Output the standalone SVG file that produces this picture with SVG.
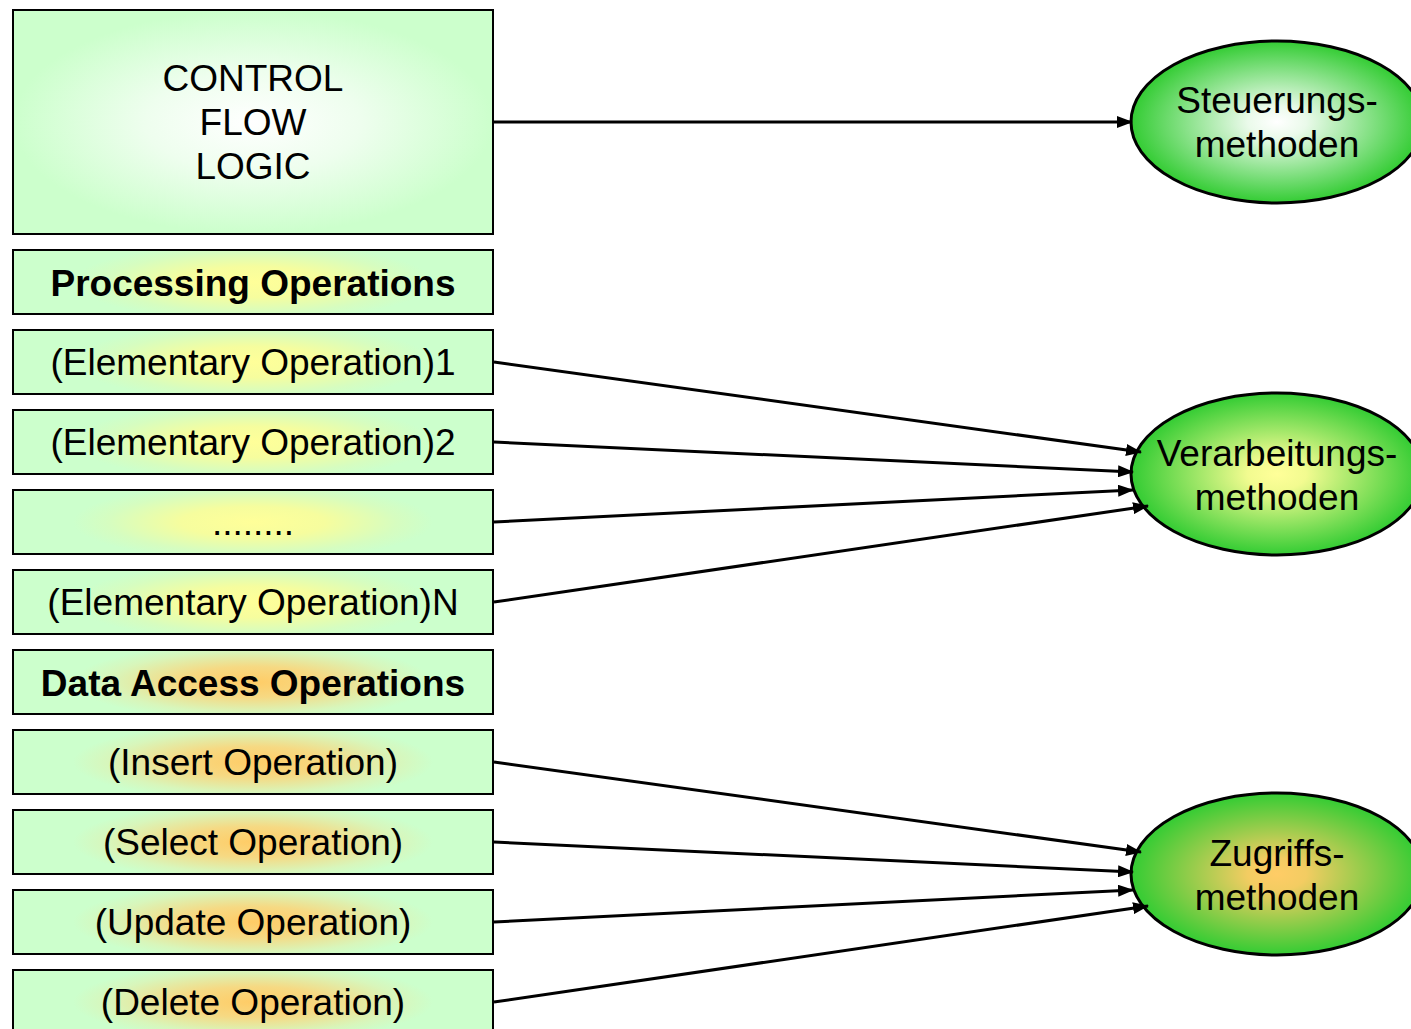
<svg xmlns="http://www.w3.org/2000/svg" width="1411" height="1029" viewBox="0 0 1411 1029">
<defs>
<radialGradient id="gW" cx="50%" cy="50%" r="50%">
<stop offset="0" stop-color="#ffffff"/><stop offset="0.45" stop-color="#eefeee"/><stop offset="1" stop-color="#ccffcc"/>
</radialGradient>
<radialGradient id="gY" cx="50%" cy="50%" r="50%" gradientTransform="translate(0.5 0.5) scale(1 1.6) translate(-0.5 -0.5)">
<stop offset="0" stop-color="#ffff99"/><stop offset="0.3" stop-color="#f6fd9e"/><stop offset="0.6" stop-color="#d6fdc0"/><stop offset="0.75" stop-color="#ccffcc"/><stop offset="1" stop-color="#ccffcc"/>
</radialGradient>
<radialGradient id="gO" cx="50%" cy="50%" r="50%" gradientTransform="translate(0.5 0.5) scale(1 1.6) translate(-0.5 -0.5)">
<stop offset="0" stop-color="#ffcc66"/><stop offset="0.3" stop-color="#f6d983"/><stop offset="0.6" stop-color="#d8f6bb"/><stop offset="0.75" stop-color="#ccffcc"/><stop offset="1" stop-color="#ccffcc"/>
</radialGradient>
<radialGradient id="eW" cx="50%" cy="50%" r="50%">
<stop offset="0" stop-color="#ffffff"/><stop offset="0.2" stop-color="#eafaea"/><stop offset="1" stop-color="#33cc33"/>
</radialGradient>
<radialGradient id="eY" cx="50%" cy="50%" r="50%">
<stop offset="0" stop-color="#ffff99"/><stop offset="0.2" stop-color="#f2fb90"/><stop offset="1" stop-color="#33cc33"/>
</radialGradient>
<radialGradient id="eO" cx="50%" cy="50%" r="50%">
<stop offset="0" stop-color="#ffcc66"/><stop offset="0.2" stop-color="#f3cc62"/><stop offset="1" stop-color="#33cc33"/>
</radialGradient>
<marker id="arr" markerWidth="16" markerHeight="12" refX="15" refY="6" orient="auto" markerUnits="userSpaceOnUse">
<path d="M0,0 L16,6 L0,12 Z" fill="#000"/>
</marker>
</defs>
<style>
.box{stroke:#000;stroke-width:2}
.ell{stroke:#000;stroke-width:3}
text{font-family:"Liberation Sans",Arial,sans-serif;font-size:37px;text-anchor:middle;fill:#000}
.b{font-weight:bold;font-size:37px}
.con{stroke:#000;stroke-width:3;fill:none;marker-end:url(#arr)}
</style>
<rect width="1411" height="1029" fill="#fff"/>
<g id="control"><rect class="box" x="13" y="10" width="480" height="224" fill="url(#gW)"/>
<text x="253" y="91">CONTROL</text><text x="253" y="135">FLOW</text><text x="253" y="179">LOGIC</text></g>
<g id="processing"><rect class="box" x="13" y="250" width="480" height="64" fill="url(#gY)"/><text class="b" x="253" y="296">Processing Operations</text></g>
<g id="elem1"><rect class="box" x="13" y="330" width="480" height="64" fill="url(#gY)"/><text x="253" y="375">(Elementary Operation)1</text></g>
<g id="elem2"><rect class="box" x="13" y="410" width="480" height="64" fill="url(#gY)"/><text x="253" y="455">(Elementary Operation)2</text></g>
<g id="dots"><rect class="box" x="13" y="490" width="480" height="64" fill="url(#gY)"/><text x="253" y="535">........</text></g>
<g id="elemN"><rect class="box" x="13" y="570" width="480" height="64" fill="url(#gY)"/><text x="253" y="615">(Elementary Operation)N</text></g>
<g id="dataaccess"><rect class="box" x="13" y="650" width="480" height="64" fill="url(#gO)"/><text class="b" x="253" y="696">Data Access Operations</text></g>
<g id="insert"><rect class="box" x="13" y="730" width="480" height="64" fill="url(#gO)"/><text x="253" y="775">(Insert Operation)</text></g>
<g id="select"><rect class="box" x="13" y="810" width="480" height="64" fill="url(#gO)"/><text x="253" y="855">(Select Operation)</text></g>
<g id="update"><rect class="box" x="13" y="890" width="480" height="64" fill="url(#gO)"/><text x="253" y="935">(Update Operation)</text></g>
<g id="delete"><rect class="box" x="13" y="970" width="480" height="64" fill="url(#gO)"/><text x="253" y="1015">(Delete Operation)</text></g>
<g id="steuerung"><ellipse class="ell" cx="1277" cy="122" rx="146" ry="81" fill="url(#eW)"/>
<text x="1277" y="113">Steuerungs-</text><text x="1277" y="157">methoden</text></g>
<g id="verarbeitung"><ellipse class="ell" cx="1277" cy="474" rx="146" ry="81" fill="url(#eY)"/>
<text x="1277" y="466">Verarbeitungs-</text><text x="1277" y="510">methoden</text></g>
<g id="zugriff"><ellipse class="ell" cx="1277" cy="874" rx="146" ry="81" fill="url(#eO)"/>
<text x="1277" y="866">Zugriffs-</text><text x="1277" y="910">methoden</text></g>
<g id="connectors">
<line class="con" x1="494" y1="122" x2="1132" y2="122"/>
<line class="con" x1="494" y1="362" x2="1141" y2="452"/>
<line class="con" x1="494" y1="442" x2="1133" y2="472"/>
<line class="con" x1="494" y1="522" x2="1133" y2="490"/>
<line class="con" x1="494" y1="602" x2="1148" y2="506"/>
<line class="con" x1="494" y1="762" x2="1141" y2="852"/>
<line class="con" x1="494" y1="842" x2="1133" y2="872"/>
<line class="con" x1="494" y1="922" x2="1133" y2="890"/>
<line class="con" x1="494" y1="1002" x2="1148" y2="906"/>
</g>
</svg>
